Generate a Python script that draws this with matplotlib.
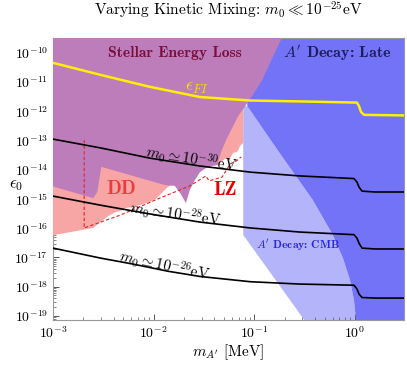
import numpy as np
import matplotlib
matplotlib.use('Agg')
import matplotlib.pyplot as plt
from matplotlib.ticker import LogLocator, NullFormatter

plt.rcParams['font.family'] = 'serif'
plt.rcParams['font.serif'] = ['cmr10']
plt.rcParams['mathtext.fontset'] = 'cm'
plt.rcParams['axes.unicode_minus'] = False
plt.rcParams['axes.formatter.use_mathtext'] = True

# all values are log10(m / MeV) and log10(epsilon_0)

# stellar energy loss region (outline)
stellar_logm = [-3.05, -0.70, -0.83, -0.92, -1.02, -1.09, -1.16, -1.22, -1.28, -1.33, -1.37,
                -1.42, -1.48, -1.54, -1.59, -1.64, -1.68, -1.73, -1.79, -1.89, -2.52, -2.56,
                -2.60, -3.05]
stellar_loge = [-9.3, -9.3, -10.24, -10.92, -11.47, -11.82, -12.16, -12.57, -12.98, -13.39, -13.84,
                -13.87, -13.94, -14.08, -14.35, -14.69, -15.14, -14.83, -14.55, -14.52, -13.90, -14.76,
                -14.97, -14.52]

# direct detection (DD) region
dd_logm = [-3.05, -1.11, -1.11, -1.14, -1.17, -1.21, -1.25, -1.28, -1.32, -1.37, -1.42, -1.48,
           -1.54, -1.59, -1.64, -1.68, -1.74, -1.79, -1.86, -1.91, -1.98, -2.04, -2.14, -2.21,
           -2.28, -2.33, -2.38, -2.45, -2.53, -2.60, -3.05]
dd_loge = [-13.32, -11.78, -13.08, -13.18, -13.39, -13.42, -13.66, -13.60, -13.70, -13.84, -13.80, -13.87,
           -14.01, -14.28, -14.55, -14.69, -14.55, -14.49, -14.59, -14.76, -15.00, -15.10, -15.21, -15.27,
           -15.31, -15.41, -15.45, -15.58, -15.79, -15.99, -16.27]

# boundary between "late" decay and CMB decay regions
decay_logm = [-1.07, -0.75, -0.42, -0.22, -0.12, -0.05, -0.01, 0.015]
decay_loge = [-11.82, -13.42, -15.03, -16.23, -17.02, -17.77, -18.46, -19.3]

# CMB region left edge
cmb_edge_logm = [-0.47, -1.11, -1.11]
cmb_edge_loge = [-19.3, -16.23, -11.82]

# LZ dashed limit
lz_logm = [-2.69, -2.69, -2.33, -1.94, -1.64, -1.48, -1.45, -1.32, -1.24, -1.18, -1.13]
lz_loge = [-12.98, -15.99, -15.55, -14.97, -14.55, -14.21, -14.38, -14.25, -13.80, -13.70, -13.56]

# freeze-in line
fi_logm = [-3.00, -2.53, -2.04, -1.54, -1.04, -0.55, 0.02, 0.04, 0.06, 0.09, 0.50]
fi_loge = [-10.34, -10.75, -11.16, -11.51, -11.63, -11.66, -11.70, -11.82, -12.02, -12.12, -12.14]

# m0 curves
m0_logm = [-3.00, -2.53, -2.04, -1.54, -1.04, -0.55, -0.01, 0.02, 0.04, 0.07, 0.20, 0.50]
m0_30_loge = [-12.95, -13.25, -13.60, -13.87, -14.08, -14.21, -14.30, -14.42, -14.59, -14.73, -14.76, -14.76]
m0_28_loge = [-14.90, -15.21, -15.51, -15.79, -15.99, -16.13, -16.22, -16.34, -16.51, -16.68, -16.71, -16.71]
m0_26_logm = [-3.00, -2.53, -2.20, -1.86, -1.54, -1.04, -0.55, -0.01, 0.02, 0.04, 0.07, 0.20, 0.50]
m0_26_loge = [-16.68, -17.02, -17.23, -17.47, -17.65, -17.83, -17.91, -17.95, -18.08, -18.25, -18.37, -18.39, -18.39]

# major tick decades shown
xtick_exp = [-3, -2, -1, 0]
ytick_exp = [-19, -18, -17, -16, -15, -14, -13, -12, -11, -10]


def p(v):
    return 10.0 ** np.array(v)


fig = plt.figure(figsize=(4.07, 3.65), dpi=100)
ax = fig.add_axes([0.1302, 0.1233, 0.8624, 0.7726])

c_late = '#7373f8'
c_cmb = '#b4b4fa'
c_dd = '#f8a5a5'
c_stellar = '#bd7dba'

# CMB region
ax.fill(p(decay_logm + cmb_edge_logm), p(decay_loge + cmb_edge_loge), color=c_cmb, lw=0, zorder=1)
# late decay region
ax.fill(p([-1.07] + decay_logm + [0.6, 0.6]), p([-9.3] + decay_loge + [-19.3, -9.3]),
        color=c_late, lw=0, zorder=2)
ax.fill(p(dd_logm), p(dd_loge), color=c_dd, lw=0, zorder=3)
ax.fill(p(stellar_logm), p(stellar_loge), color=c_stellar, lw=0, zorder=4)

ax.plot(p(lz_logm), p(lz_loge), color='#e82020', lw=0.8, ls=(0, (3, 2)), zorder=5)

ax.plot(p(m0_logm), p(m0_30_loge), color='black', lw=1.2, zorder=6)
ax.plot(p(m0_logm), p(m0_28_loge), color='black', lw=1.2, zorder=6)
ax.plot(p(m0_26_logm), p(m0_26_loge), color='black', lw=1.2, zorder=6)
ax.plot(p(fi_logm), p(fi_loge), color='#fff000', lw=1.8, zorder=7)

ax.set_xscale('log')
ax.set_yscale('log')
ax.set_xlim(1e-3, 10 ** 0.487)
ax.set_ylim(10 ** -19.14, 10 ** -9.49)

# labels
ax.text(10 ** -1.79, 10 ** -10.0, 'Stellar Energy Loss', family='cmb10', fontsize=11.3,
        color='#7a1040', ha='center', va='center', zorder=8)
ax.text(10 ** -0.18, 10 ** -10.0, "$A'$ Decay: Late", family='cmb10', fontsize=11.5,
        color='#1e1e5a', ha='center', va='center', zorder=8)
ax.text(10 ** -1.57, 10 ** -11.2, r'$\epsilon_{FI}$', fontsize=13, color='#f0e000',
        ha='center', va='center', zorder=8)
ax.text(10 ** -2.32, 10 ** -14.66, 'DD', family='cmb10', fontsize=14, color='#ea3c3c',
        ha='center', va='center', zorder=8)
ax.text(10 ** -1.29, 10 ** -14.69, 'LZ', family='cmb10', fontsize=14, color='#e80000',
        ha='center', va='center', zorder=8)
ax.text(10 ** -0.57, 10 ** -16.58, "$A'$ Decay: CMB", family='cmb10', fontsize=8.3,
        color='#2828d8', ha='center', va='center', zorder=8)
ax.text(10 ** -1.62, 10 ** -13.62, r'$m_0 \simeq 10^{-30}$eV', fontsize=11, rotation=-9,
        ha='center', va='center', zorder=8)
ax.text(10 ** -1.78, 10 ** -15.51, r'$m_0 \simeq 10^{-28}$eV', fontsize=11, rotation=-8,
        ha='center', va='center', zorder=8)
ax.text(10 ** -1.89, 10 ** -17.29, r'$m_0 \simeq 10^{-26}$eV', fontsize=11, rotation=-12,
        ha='center', va='center', zorder=8)

ax.set_title(r'Varying Kinetic Mixing: $m_0 \ll 10^{-25}$eV', fontsize=11.2, pad=16)
ax.set_xlabel(r"$m_{A'}$ [MeV]", fontsize=11)
ax.xaxis.set_label_coords(0.5, -0.078)
ax.set_ylabel(r'$\epsilon_0$', fontsize=12, rotation=0, va='center')
ax.yaxis.set_label_coords(-0.105, 0.478)

ax.set_xticks(p(xtick_exp))
ax.set_yticks(p(ytick_exp))
ax.xaxis.set_minor_locator(LogLocator(base=10, subs=np.arange(2, 10), numticks=100))
ax.yaxis.set_minor_locator(LogLocator(base=10, subs=np.arange(2, 10), numticks=100))
ax.xaxis.set_minor_formatter(NullFormatter())
ax.yaxis.set_minor_formatter(NullFormatter())
ax.tick_params(which='both', direction='in', top=True, right=True, color='#555555', labelsize=10)
ax.tick_params(which='major', length=4, width=0.7)
ax.tick_params(which='minor', length=2, width=0.5)
for s in ax.spines.values():
    s.set_color('#999999')
    s.set_linewidth(0.8)

fig.savefig('out.png', dpi=100)
